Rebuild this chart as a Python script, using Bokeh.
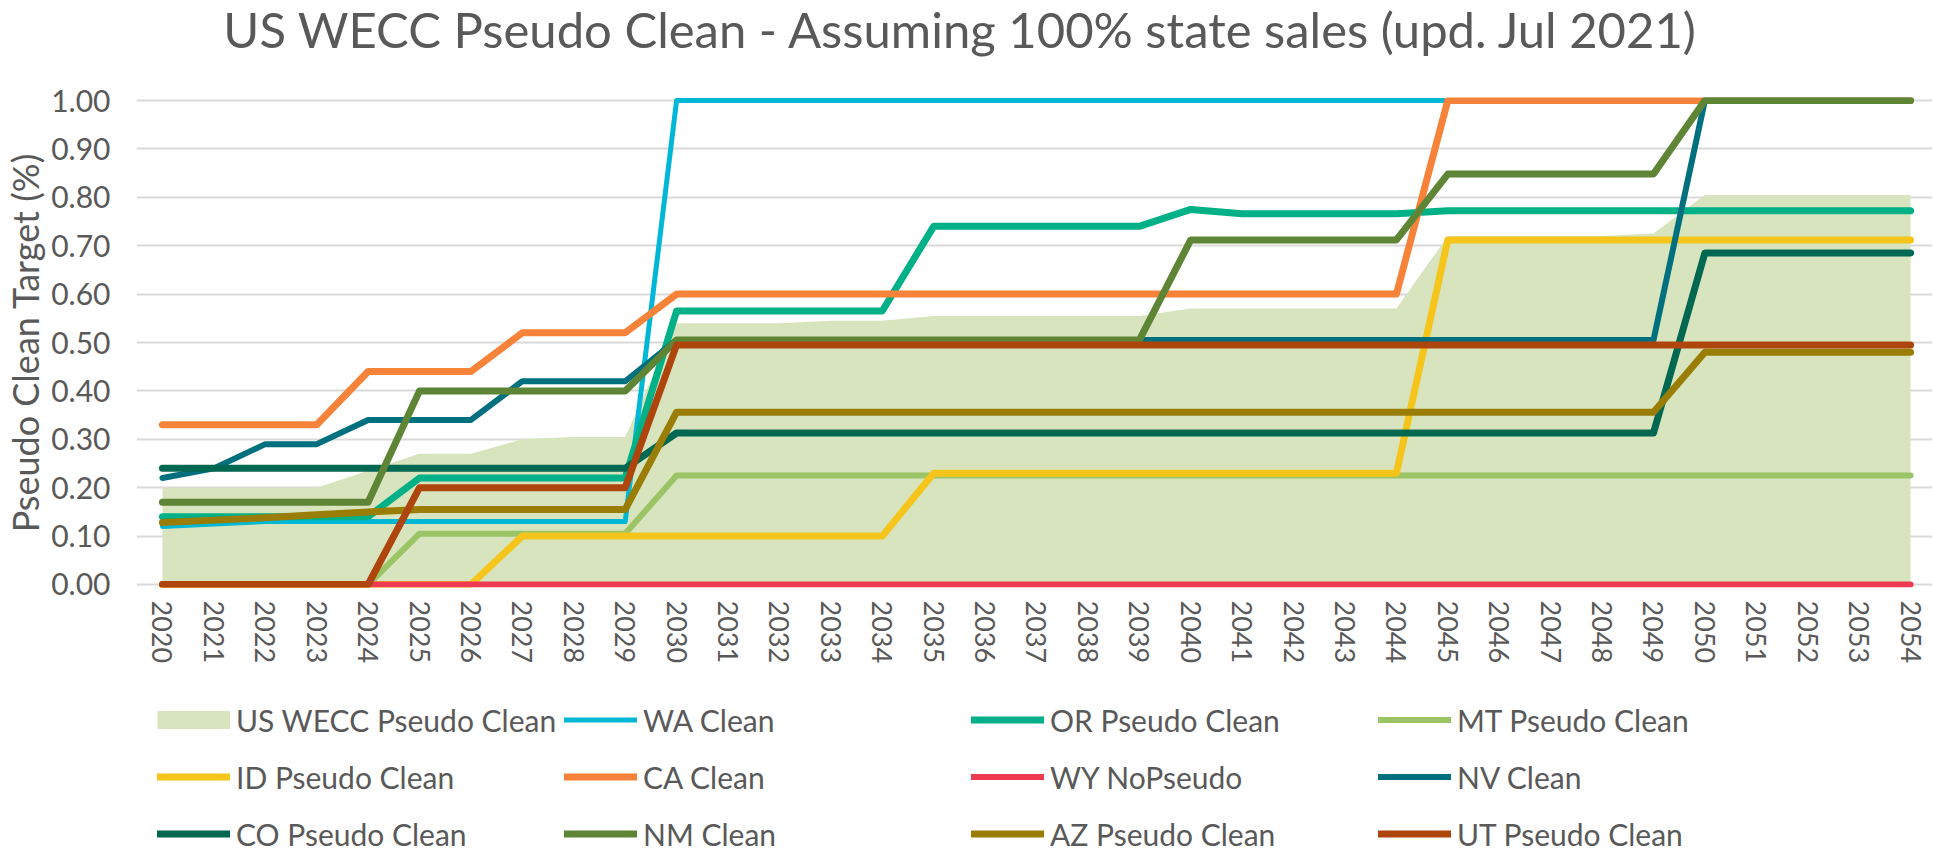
from bokeh.plotting import figure
from bokeh.layouts import column
from bokeh.models import (ColumnDataSource, Range1d, FixedTicker, NumeralTickFormatter,
                          Legend, LegendItem, Label)
from bokeh.embed import file_html
from bokeh.resources import INLINE

# ---------------- data ----------------
years = list(range(2020, 2055))

us_wecc = [0.20, 0.20, 0.20, 0.20, 0.235, 0.27, 0.27, 0.30, 0.305, 0.305,
           0.54, 0.54, 0.54, 0.545, 0.545, 0.555, 0.555, 0.555, 0.555, 0.555,
           0.57, 0.57, 0.57, 0.57, 0.57, 0.72, 0.72, 0.72, 0.72, 0.725,
           0.805, 0.805, 0.805, 0.805, 0.805]
wa = [0.12, 0.125, 0.13, 0.13, 0.13, 0.13, 0.13, 0.13, 0.13, 0.13,
      1.0, 1.0, 1.0, 1.0, 1.0, 1.0, 1.0, 1.0, 1.0, 1.0,
      1.0, 1.0, 1.0, 1.0, 1.0, 1.0, 1.0, 1.0, 1.0, 1.0,
      1.0, 1.0, 1.0, 1.0, 1.0]
orp = [0.14, 0.14, 0.14, 0.14, 0.14, 0.22, 0.22, 0.22, 0.22, 0.22,
       0.565, 0.565, 0.565, 0.565, 0.565, 0.74, 0.74, 0.74, 0.74, 0.74,
       0.775, 0.766, 0.766, 0.766, 0.766, 0.772, 0.772, 0.772, 0.772, 0.772,
       0.772, 0.772, 0.772, 0.772, 0.772]
mt = [0.0, 0.0, 0.0, 0.0, 0.0, 0.105, 0.105, 0.105, 0.105, 0.105,
      0.225, 0.225, 0.225, 0.225, 0.225, 0.225, 0.225, 0.225, 0.225, 0.225,
      0.225, 0.225, 0.225, 0.225, 0.225, 0.225, 0.225, 0.225, 0.225, 0.225,
      0.225, 0.225, 0.225, 0.225, 0.225]
idp = [0.0, 0.0, 0.0, 0.0, 0.0, 0.0, 0.0, 0.10, 0.10, 0.10,
       0.10, 0.10, 0.10, 0.10, 0.10, 0.23, 0.23, 0.23, 0.23, 0.23,
       0.23, 0.23, 0.23, 0.23, 0.23, 0.712, 0.712, 0.712, 0.712, 0.712,
       0.712, 0.712, 0.712, 0.712, 0.712]
ca = [0.33, 0.33, 0.33, 0.33, 0.44, 0.44, 0.44, 0.52, 0.52, 0.52,
      0.60, 0.60, 0.60, 0.60, 0.60, 0.60, 0.60, 0.60, 0.60, 0.60,
      0.60, 0.60, 0.60, 0.60, 0.60, 1.0, 1.0, 1.0, 1.0, 1.0,
      1.0, 1.0, 1.0, 1.0, 1.0]
wy = [0.0] * 35
nv = [0.22, 0.24, 0.29, 0.29, 0.34, 0.34, 0.34, 0.42, 0.42, 0.42,
      0.505, 0.505, 0.505, 0.505, 0.505, 0.505, 0.505, 0.505, 0.505, 0.505,
      0.505, 0.505, 0.505, 0.505, 0.505, 0.505, 0.505, 0.505, 0.505, 0.505,
      1.0, 1.0, 1.0, 1.0, 1.0]
co = [0.24, 0.24, 0.24, 0.24, 0.24, 0.24, 0.24, 0.24, 0.24, 0.24,
      0.313, 0.313, 0.313, 0.313, 0.313, 0.313, 0.313, 0.313, 0.313, 0.313,
      0.313, 0.313, 0.313, 0.313, 0.313, 0.313, 0.313, 0.313, 0.313, 0.313,
      0.685, 0.685, 0.685, 0.685, 0.685]
nm = [0.17, 0.17, 0.17, 0.17, 0.17, 0.40, 0.40, 0.40, 0.40, 0.40,
      0.505, 0.505, 0.505, 0.505, 0.505, 0.505, 0.505, 0.505, 0.505, 0.505,
      0.712, 0.712, 0.712, 0.712, 0.712, 0.848, 0.848, 0.848, 0.848, 0.848,
      1.0, 1.0, 1.0, 1.0, 1.0]
az = [0.128, 0.133, 0.138, 0.144, 0.15, 0.155, 0.155, 0.155, 0.155, 0.155,
      0.356, 0.356, 0.356, 0.356, 0.356, 0.356, 0.356, 0.356, 0.356, 0.356,
      0.356, 0.356, 0.356, 0.356, 0.356, 0.356, 0.356, 0.356, 0.356, 0.356,
      0.48, 0.48, 0.48, 0.48, 0.48]
ut = [0.0, 0.0, 0.0, 0.0, 0.0, 0.20, 0.20, 0.20, 0.20, 0.20,
      0.495, 0.495, 0.495, 0.495, 0.495, 0.495, 0.495, 0.495, 0.495, 0.495,
      0.495, 0.495, 0.495, 0.495, 0.495, 0.495, 0.495, 0.495, 0.495, 0.495,
      0.495, 0.495, 0.495, 0.495, 0.495]

area_label = "US WECC Pseudo Clean"
line_labels = ["WA Clean", "OR Pseudo Clean", "MT Pseudo Clean", "ID Pseudo Clean",
               "CA Clean", "WY NoPseudo", "NV Clean", "CO Pseudo Clean",
               "NM Clean", "AZ Pseudo Clean", "UT Pseudo Clean"]
line_keys = ["wa", "orp", "mt", "idp", "ca", "wy", "nv", "co", "nm", "az", "ut"]
y_ticks = [0.0, 0.1, 0.2, 0.3, 0.4, 0.5, 0.6, 0.7, 0.8, 0.9, 1.0]
title_text = "US WECC Pseudo Clean - Assuming 100% state sales (upd. Jul 2021)"
y_title = "Pseudo Clean Target (%)"

# ---------------- styles ----------------
AREA_COLOR = "#D7E4BD"
line_colors = ["#00B7D6", "#00B087", "#9BC467", "#F6C51C", "#F7823A", "#EE3B52",
               "#00707F", "#006750", "#5E8536", "#9A7D05", "#AD450C"]
line_widths = [5, 7, 6, 7, 7, 6, 6, 7, 7, 7, 7]
TXT = "#595959"
FONT = "Lato"
W = 1932
H_TITLE = 60
H_CHART = 610
H_LEG = 180
LEFT = 132

src = ColumnDataSource(dict(year=years, us_wecc=us_wecc, wa=wa, orp=orp, mt=mt, idp=idp,
                            ca=ca, wy=wy, nv=nv, co=co, nm=nm, az=az, ut=ut))

# ---------------- title strip ----------------
tf = figure(width=W, height=H_TITLE, output_backend="svg", toolbar_location=None,
            x_range=Range1d(0, 1), y_range=Range1d(0, 1), min_border=0,
            min_border_left=LEFT, x_axis_location=None, y_axis_location=None)
tf.outline_line_color = None
tf.grid.visible = False
tf.add_layout(Label(x=825, y=32, x_units="screen", y_units="screen", text=title_text,
                    text_align="center", text_baseline="alphabetic",
                    text_font=FONT, text_font_size="49px", text_color=TXT))

# ---------------- chart ----------------
p = figure(width=W, height=H_CHART, output_backend="svg", toolbar_location=None,
           x_range=Range1d(2019.4954, 2054.427), y_range=Range1d(-0.0062, 1.0062),
           min_border_left=LEFT, min_border_right=0, min_border_top=97 - H_TITLE,
           min_border_bottom=H_CHART - (587 - H_TITLE))
p.outline_line_color = None
p.background_fill_color = "white"
p.border_fill_color = "white"

p.varea(x="year", y1=0, y2="us_wecc", source=src, fill_color=AREA_COLOR)

for key, col, w in zip(line_keys, line_colors, line_widths):
    p.line(x="year", y=key, source=src, line_color=col, line_width=w,
           line_cap="round", line_join="round")

p.xaxis.ticker = FixedTicker(ticks=years)
p.xaxis.major_label_orientation = "vertical"
p.xaxis.major_label_standoff = 13
p.xaxis.major_label_text_font = FONT
p.xaxis.major_label_text_font_size = "27px"
p.xaxis.major_label_text_color = TXT
p.yaxis.ticker = FixedTicker(ticks=y_ticks)
p.yaxis.formatter = NumeralTickFormatter(format="0.00")
p.yaxis.major_label_standoff = 26
p.yaxis.major_label_text_font = FONT
p.yaxis.major_label_text_font_size = "30px"
p.yaxis.major_label_text_color = TXT
p.yaxis.axis_label = y_title
p.yaxis.axis_label_standoff = 1
p.yaxis.axis_label_text_font = FONT
p.yaxis.axis_label_text_font_size = "36px"
p.yaxis.axis_label_text_font_style = "normal"
p.yaxis.axis_label_text_color = TXT
for ax in (p.xaxis, p.yaxis):
    ax.axis_line_color = None
    ax.major_tick_line_color = None
    ax.minor_tick_line_color = None
    ax.major_tick_out = 0
    ax.major_tick_in = 0

p.xgrid.visible = False
p.ygrid.ticker = FixedTicker(ticks=y_ticks)
p.ygrid.grid_line_color = "#D9D9D9"
p.ygrid.grid_line_width = 2

# ---------------- legend strip ----------------
# the legend renderers reuse the data but lie outside this strip's ranges,
# so only their legend swatches are visible
lg = figure(width=W, height=H_LEG, output_backend="svg", toolbar_location=None,
            x_range=Range1d(0, 1), y_range=Range1d(0, 1),
            min_border=0, min_border_left=LEFT, x_axis_location=None, y_axis_location=None)
lg.outline_line_color = None
lg.grid.visible = False

items = [LegendItem(label=area_label,
                    renderers=[lg.line(x="year", y="us_wecc", source=src,
                                       line_color=AREA_COLOR, line_width=18,
                                       line_cap="butt")])]
for lab, key, col, w in zip(line_labels, line_keys, line_colors, line_widths):
    r = lg.line(x="year", y=key, source=src, line_color=col, line_width=w,
                line_cap="round")
    items.append(LegendItem(label=lab, renderers=[r]))

legend = Legend(items=items, ncols=4, orientation="horizontal",
                location=(21, -12), padding=0, margin=0, spacing=0,
                glyph_width=73, glyph_height=57, label_height=57,
                label_standoff=6, label_width=328,
                border_line_color=None, background_fill_alpha=0,
                label_text_font=FONT, label_text_font_size="30px",
                label_text_color=TXT)
lg.add_layout(legend, "center")

layout = column(tf, p, lg, spacing=0)
open("out.html", "w").write(file_html(layout, INLINE))
